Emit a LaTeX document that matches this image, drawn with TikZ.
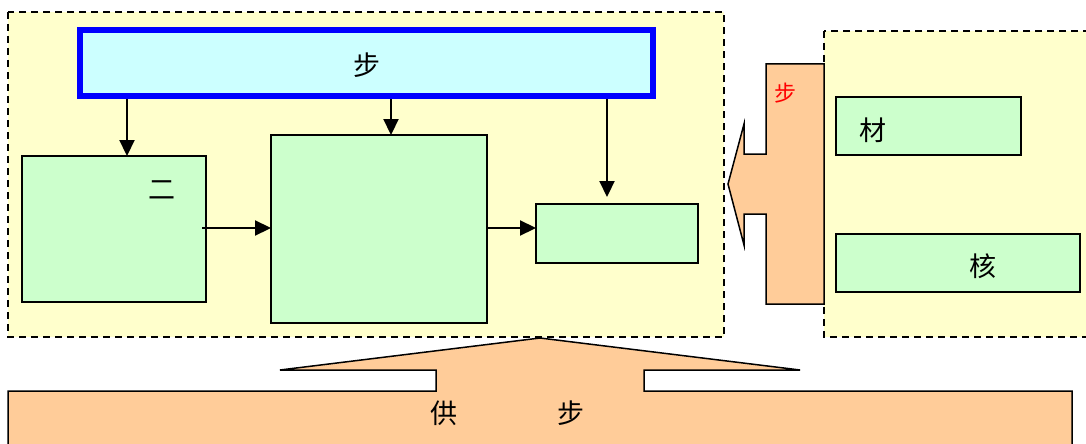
\documentclass[tikz,border=0pt]{standalone}
\usepackage{fontspec}
\newfontfamily\cjk{Noto Sans CJK SC}
\usetikzlibrary{arrows.meta}
\definecolor{regionyellow}{HTML}{FFFFCC}
\definecolor{boxgreen}{HTML}{CCFFCC}
\definecolor{boxcyan}{HTML}{CCFFFF}
\definecolor{boxorange}{HTML}{FFCC99}
\tikzset{
  region/.style={draw=black, fill=regionyellow, line width=1.3pt, dash pattern=on 7pt off 5pt},
  greenbox/.style={draw=black, fill=boxgreen, line width=1.5pt, inner sep=0pt, outer sep=0pt},
  bluebox/.style={draw=blue, fill=boxcyan, line width=6pt, inner sep=0pt},
  orangeshape/.style={draw=black, fill=boxorange, line width=1.5pt, line join=miter},
  arr/.style={line width=2.2pt, -{Triangle[length=16pt,width=15pt]}},
  lbl/.style={font=\cjk\fontsize{27}{27}\selectfont, inner sep=0pt},
}
\begin{document}
\begin{tikzpicture}[x=1pt,y=-1pt]
\useasboundingbox (0,0) rectangle (1086,444);
% regions
\draw[region] (8,12) rectangle (724,337);
\draw[region] (824,31) rectangle (1095,337);
% bottom bar with upward arrow
\fill[boxorange] (8,391) rectangle (1072,460);
\fill[boxorange] (436,392)--(436,370)--(280,370)--(540,338)--(800,370)--(644,370)--(644,392)--cycle;
\draw[line width=1.5pt, line join=miter] (8,460)--(8,391)--(436,391)--(436,370)--(280,370)--(540,338)--(800,370)--(644,370)--(644,391)--(1072,391)--(1072,460);
% left-pointing orange arrow
\draw[orangeshape] (824,64)--(766,64)--(766,154)--(744,154)--(744,124)--(728,184)--(744,245)--(744,214)--(766,214)--(766,304)--(824,304)--cycle;
% boxes
\node[bluebox, minimum width=573pt, minimum height=66pt] (top) at (366.5,63) {};
\node[greenbox, minimum width=184pt, minimum height=146pt] (left) at (114,229) {};
\node[greenbox, minimum width=216pt, minimum height=188pt] (mid) at (379,229) {};
\node[greenbox, minimum width=162pt, minimum height=59pt] (small) at (617,233.5) {};
\node[greenbox, minimum width=185pt, minimum height=58pt] (cai) at (928.5,126) {};
\node[greenbox, minimum width=244pt, minimum height=58pt] (he) at (958,263) {};
% labels
\node[lbl] (tTop) at (367,65) {步};
\node[lbl] (tLeft) at (162,190) {二};
\node[lbl] (tCai) at (873,130) {材};
\node[lbl] (tHe) at (983,266) {核};
\node[lbl, text=red, font=\cjk\fontsize{22}{22}\selectfont] (tRed) at (785,93) {步};
\node[lbl] (tGong) at (444,413) {供};
\node[lbl] (tBu) at (571,413) {步};
% connectors
\coordinate (c3) at (607,197);
\draw[arr] (top.south -| 127,0) -- (left.north -| 127,0);
\draw[arr] (top.south -| 391,0) -- (mid.north -| 391,0);
\draw[arr] (top.south -| c3) -- (c3);
\draw[arr] ([xshift=-4pt]left.east |- 0,228) -- (mid.west |- 0,228);
\draw[arr] (mid.east |- 0,228) -- (small.west |- 0,228);
\end{tikzpicture}
\end{document}
